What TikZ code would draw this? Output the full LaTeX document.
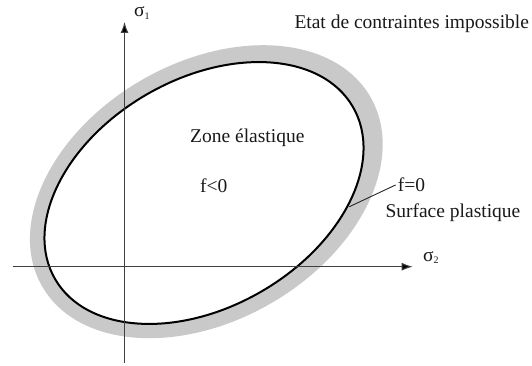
\documentclass[tikz,border=0pt]{standalone}
\usepackage{fontspec}
\setmainfont{Liberation Serif}
\usetikzlibrary{arrows.meta}
\begin{document}
\begin{tikzpicture}[x=1pt,y=1pt,
  lbl/.style={inner sep=0pt, font=\fontsize{19.5}{22}\selectfont, text=black!90},
  sig/.style={inner sep=0pt, font=\fontsize{19.5}{22}\selectfont, text=black!90},
  axisline/.style={draw=black!75, line width=1pt, -{Latex[length=11pt,width=8pt,fill=black]}},
  band/.style={fill=gray!42},
  yieldcurve/.style={draw=black, line width=2pt, fill=white},
  leader/.style={draw=black!85, line width=0.9pt},
]
\useasboundingbox (0,0) rectangle (532,365);
% plastic band (impossible states boundary zone)
\fill[band, rotate around={30:(206.3,173.3)}] (206.3,173.3) ellipse (189.5 and 129);
% yield surface f=0
\draw[yieldcurve, rotate around={30:(204,172)}] (204,172) ellipse (172 and 114);
% axes
\coordinate (yb) at (124.5,2.3);
\coordinate (yt) at (124.5,343);
\coordinate (xl) at (12.7,98.3);
\coordinate (xr) at (412.7,98.3);
\draw[axisline] (yb) -- (yt);
\draw[axisline] (xl) -- (xr);
% labels
\node[sig, anchor=base west] (s1) at (134,348) {σ\raisebox{-0.25ex}{\fontsize{10}{12}\selectfont 1}};
\node[sig, anchor=base west] (s2) at (423,103.3) {σ\raisebox{-0.25ex}{\fontsize{10}{12}\selectfont 2}};
\node[lbl, anchor=base west] (etat) at (294.3,336.7) {Etat de contraintes impossible};
\node[lbl, anchor=base west] (zone) at (190,222.3) {Zone élastique};
\node[lbl, anchor=base west] (fneg) at (200,172.3) {f<0};
\node[lbl, anchor=base west] (fzero) at (397.7,173.3) {f=0};
\node[lbl, anchor=base west] (surf) at (385.3,147.7) {Surface plastique};
\coordinate (p) at (349.3,158.3);
\draw[leader] ([xshift=-2pt]fzero.west) -- (p);
\end{tikzpicture}
\end{document}
